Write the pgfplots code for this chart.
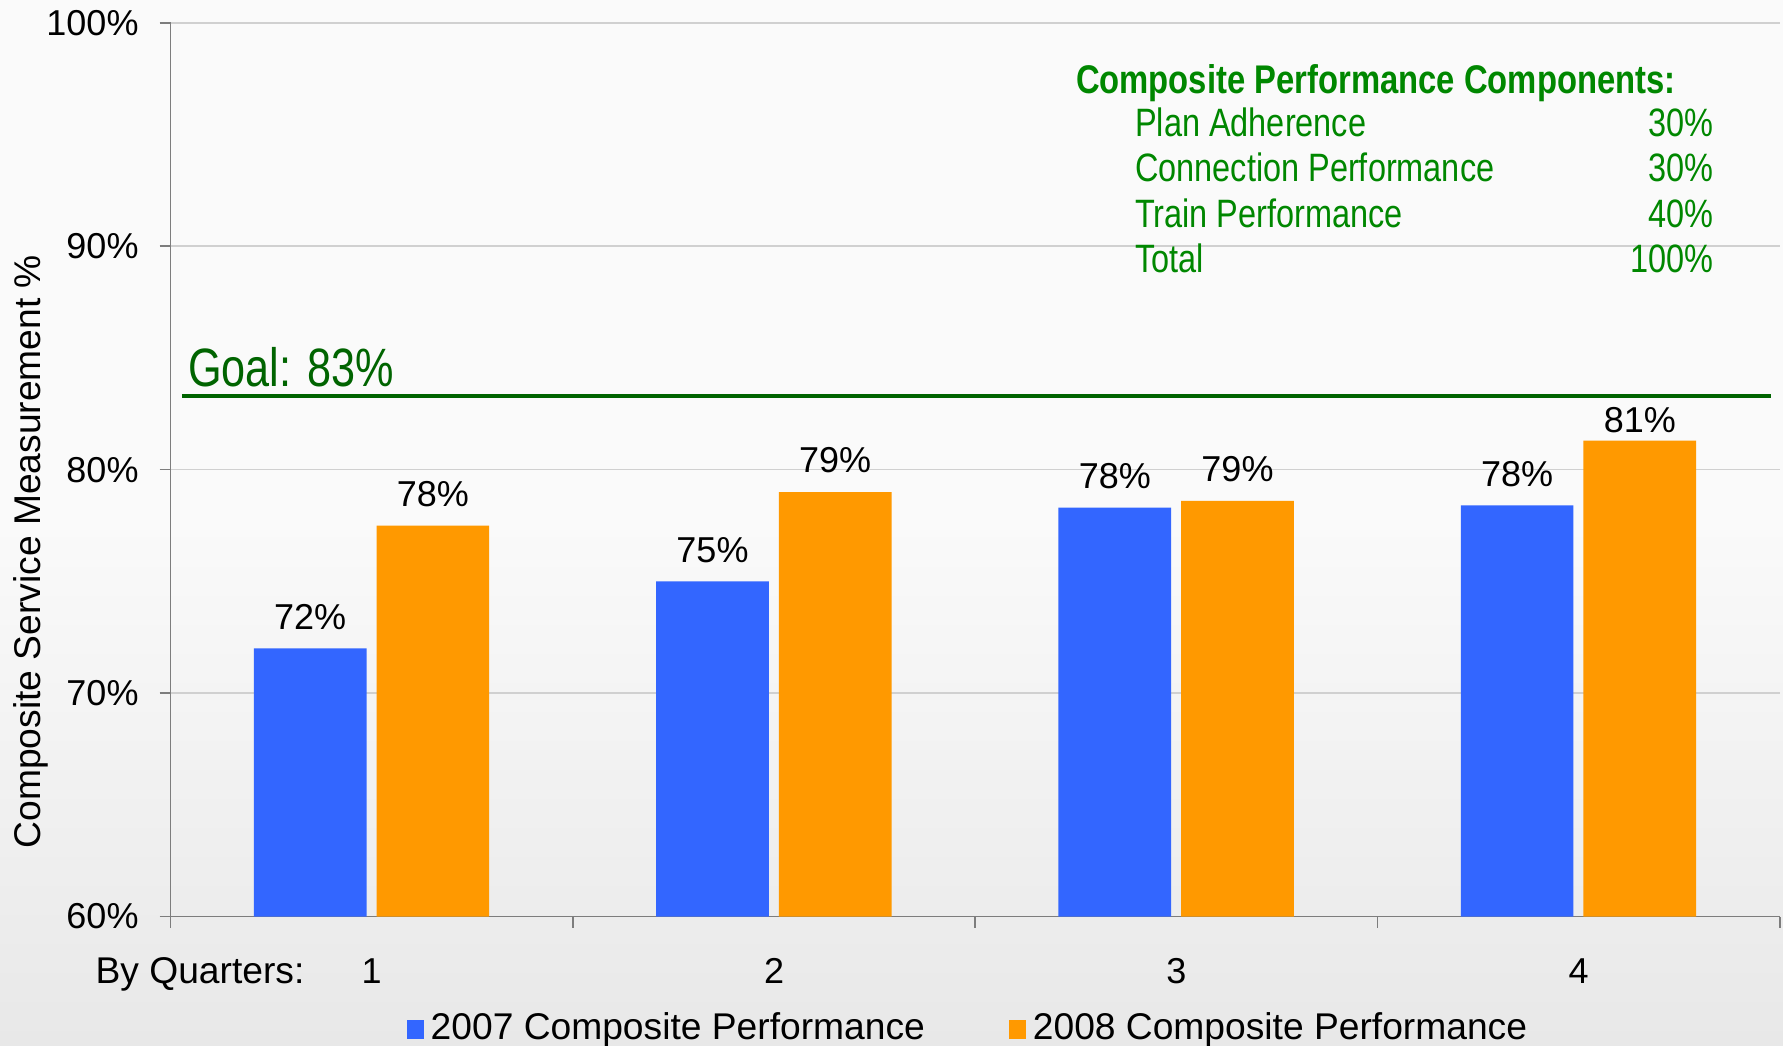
\documentclass[border=0pt]{standalone}
\usepackage{fontspec}
\setmainfont{Liberation Sans}
\newfontfamily\narrow[FakeStretch=0.82]{Liberation Sans}
\newfontfamily\narrowg[FakeStretch=0.8]{Liberation Sans}
\usepackage{pgfplots}
\pgfplotsset{compat=1.18}
\usepackage{pgfplotstable}
\definecolor{barblue}{RGB}{51,102,255}
\definecolor{barorange}{RGB}{255,153,0}
\definecolor{goalgreen}{RGB}{0,100,0}
\definecolor{txtgreen}{RGB}{0,135,0}
\definecolor{gridgray}{RGB}{208,208,208}
\definecolor{axisgray}{RGB}{125,125,125}
\definecolor{bgtop}{RGB}{250,250,250}
\definecolor{bgbot}{RGB}{232,232,232}

\pgfplotstableread{
x y lab dy
0 72.0 72 0
1 75.0 75 0
2 78.3 78 0
3 78.4 78 0
}\blueTable
\pgfplotstableread{
x y lab dy
0 77.5 78 0
1 79.0 79 0
2 78.6 79 0
3 81.3 81 -5.7
}\orangeTable

\pgfplotsset{barlabels/.style={
  point meta=explicit symbolic,
  nodes near coords={\pgfplotspointmeta\%},
  visualization depends on={\thisrow{dy}\as\dy},
  nodes near coords style={font=\fontsize{18}{20}\selectfont, text=black, anchor=south, yshift=5.9pt+\dy pt},
}}

\begin{document}
\begin{tikzpicture}
\shade[top color=bgtop, bottom color=bgbot, middle color=bgtop] (0,0) rectangle (891.5pt,522.5pt);
\begin{axis}[
  at={(85.3pt,64.2pt)}, anchor=south west,
  scale only axis, width=804.6pt, height=446.9pt,
  xmin=-0.5, xmax=3.5, ymin=60, ymax=100,
  axis x line=bottom, axis y line=left,
  axis line style={-, draw=axisgray, line width=0.8pt},
  tick align=outside,
  major tick length=5.5pt,
  tick style={draw=axisgray, line width=0.8pt},
  ytick={60,70,80,90,100},
  yticklabels={60\%,70\%,80\%,90\%,100\%},
  xtick={-0.5,0.5,1.5,2.5,3.5},
  xticklabels={},
  extra x ticks={0,1,2,3},
  extra x tick labels={1,2,3,4},
  extra x tick style={major tick length=0pt, grid=none},
  xticklabel style={anchor=base, yshift=-33.2pt},
  yticklabel style={anchor=east, xshift=-7pt},
  ticklabel style={font=\fontsize{18}{20}\selectfont},
  ymajorgrids=true,
  grid style={draw=gridgray, line width=0.8pt},
  ybar, bar width=0.28,
  legend style={at={(0.4961,-0.1245)}, anchor=center, draw=none, fill=none,
    legend columns=2, font=\fontsize{18.6}{20}\selectfont,
    /tikz/every even column/.append style={column sep=40pt}},
  legend image code/.code={\fill[#1] (0pt,-5.7pt) rectangle (8.5pt,4pt); \path (10pt,0pt);},
  clip=false,
]
\addplot[fill=barblue, draw=none, bar shift=-0.153, barlabels] table[x=x, y=y, meta=lab] {\blueTable};
\addlegendentry{2007 Composite Performance}
\addplot[fill=barorange, draw=none, bar shift=0.152, barlabels] table[x=x, y=y, meta=lab] {\orangeTable};
\addlegendentry{2008 Composite Performance}
\addplot[sharp plot, goalgreen, line width=2.3pt, forget plot] coordinates {(-0.472,83.3) (3.477,83.3)};
\node[anchor=base east, font=\fontsize{18.6}{20}\selectfont, inner sep=0pt] at (rel axis cs:0.0834,0) [yshift=-33.2pt] {By Quarters:};
\end{axis}
\node[rotate=90, font=\fontsize{18.6}{20}\selectfont] at (15.3pt,246.7pt) {Composite Service Measurement \%};
\node[anchor=base west, inner sep=0pt, text=goalgreen, font=\narrowg\fontsize{27}{30}\selectfont] at (93.8pt,329.2pt) {Goal: 83\%};
\node[anchor=base west, inner sep=0pt, text=txtgreen, font=\narrow\bfseries\fontsize{20}{22}\selectfont] at (537.8pt,475.9pt) {Composite Performance Components:};
\begin{scope}[every node/.style={inner sep=0pt, text=txtgreen, font=\narrow\fontsize{19.8}{21}\selectfont}]
\node[anchor=base west] at (567.4pt,454.3pt) {Plan Adherence};
\node[anchor=base west] at (567.4pt,431.6pt) {Connection Performance};
\node[anchor=base west] at (567.4pt,408.8pt) {Train Performance};
\node[anchor=base west] at (567.4pt,386.1pt) {Total};
\node[anchor=base east] at (856.8pt,454.3pt) {30\%};
\node[anchor=base east] at (856.8pt,431.6pt) {30\%};
\node[anchor=base east] at (856.8pt,408.8pt) {40\%};
\node[anchor=base east] at (856.8pt,386.1pt) {100\%};
\end{scope}
\pgfresetboundingbox
\path[use as bounding box] (0,0) rectangle (891.5pt,522.5pt);
\end{tikzpicture}
\end{document}
